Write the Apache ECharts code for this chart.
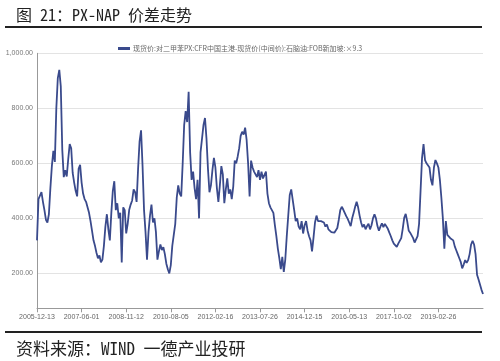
<!DOCTYPE html>
<html><head><meta charset="utf-8">
<script src="https://cdn.jsdelivr.net/npm/echarts@6/dist/echarts.min.js"></script>
<style>html,body{margin:0;padding:0;background:#fff}#c{width:500px;height:361px}</style>
</head><body><div id="c"></div>
<script>
const tickDates = ['2005-12-13','2007-06-01','2008-11-12','2010-08-05','2012-02-16','2013-07-26','2014-12-15','2016-05-13','2017-10-02','2019-02-26','2020-07-20'];
const yTicks = [200,400,600,800,1000];
const seriesName = '现货价:对二甲苯PX:CFR中国主港-现货价(中间价):石脑油:FOB新加坡:×9.3';
const values = [
320,470,465,495,460,430,395,385,415,510,590,645,605,800,910,940,880,650,550,575,552,615,670,655,565,530,500,480,580,595,
530,490,470,460,440,420,390,355,320,300,275,255,265,240,250,300,370,415,360,320,420,500,535,430,455,400,420,240,440,430,
345,380,430,450,465,505,495,460,580,680,720,590,430,350,250,350,410,450,385,400,350,250,280,305,285,295,270,235,215,200,
230,300,340,380,475,520,490,480,600,740,790,750,860,640,540,570,510,470,540,400,640,690,740,765,690,580,495,520,575,620,
585,510,460,520,590,560,455,505,545,490,505,470,515,610,600,625,655,700,715,705,730,685,600,480,610,585,570,560,550,575,
540,570,545,550,570,490,455,440,445,420,375,335,290,255,215,260,205,250,335,410,485,505,500,430,390,400,370,360,390,345,
375,390,355,335,320,280,330,385,410,390,385,390,395,385,370,378,360,358,350,348,348,352,365,395,430,442,432,420,408,398,
385,372,400,420,442,460,440,410,385,368,378,360,372,380,360,375,400,415,400,372,355,370,382,368,380,375,362,348,335,320,
308,312,296,308,305,328,362,402,416,390,356,348,345,328,312,318,335,380,500,620,670,612,600,605,585,540,520,585,612,600,
585,540,475,400,290,390,340,340,328,325,320,298,284,270,256,242,218,232,248,238,248,270,305,318,305,270,195,178,176,140,125
];
const perSeg = 30;
// category dates: spread evenly between the tick dates
const categories = [];
for (let s = 0; s < tickDates.length - 1; s++) {
  const a = Date.parse(tickDates[s]), b = Date.parse(tickDates[s+1]);
  for (let k = 0; k < perSeg; k++) {
    categories.push(new Date(a + (b - a) * k / perSeg).toISOString().slice(0,10));
  }
}
categories.push(tickDates[tickDates.length-1]);

const headFont = "'Noto Sans Mono CJK SC', 'Liberation Mono', 'Noto Sans CJK SC', monospace";
const chart = echarts.init(document.getElementById('c'));
const showIdx = (i) => i % perSeg === 0 && i < values.length - 1;
chart.setOption({
  animation: false,
  title: [
    {text: '图 21：PX-NAP 价差走势', left: 11, top: 2, textStyle: {fontSize: 16, fontWeight: 'normal', color: '#222', fontFamily: headFont}},
    {text: '资料来源：WIND 一德产业投研', left: 11, top: 335, textStyle: {fontSize: 17, fontWeight: 'normal', color: '#222', fontFamily: headFont}}
  ],
  graphic: [
    {type: 'line', shape: {x1: 5, y1: 27, x2: 482, y2: 27}, style: {stroke: '#222', lineWidth: 2}},
    {type: 'line', shape: {x1: 5, y1: 332, x2: 482, y2: 332}, style: {stroke: '#222', lineWidth: 2}}
  ],
  legend: {
    top: 40, left: 113, itemWidth: 12, itemHeight: 3, icon: 'rect', itemGap: 4,
    textStyle: {fontSize: 7, color: '#666', fontFamily: 'Noto Sans CJK SC', padding: [0,0,0,-2]},
    data: [seriesName]
  },
  grid: {left: 37, right: 17, top: 53.3, bottom: 52.7, containLabel: false},
  xAxis: {
    type: 'category', data: categories, boundaryGap: false,
    axisLine: {lineStyle: {color: '#999'}},
    axisTick: {interval: (i) => showIdx(i), length: 4, lineStyle: {color: '#999'}},
    axisLabel: {interval: (i) => showIdx(i), fontSize: 7, color: '#666', margin: 5, fontFamily: 'Liberation Sans'},
    splitLine: {show: false}
  },
  yAxis: {
    type: 'value', min: 73, max: 1000,
    axisLine: {show: true, lineStyle: {color: '#999'}},
    axisTick: {show: false, customValues: yTicks},
    axisLabel: {customValues: yTicks, fontSize: 7, color: '#777', margin: 4, fontFamily: 'Liberation Sans',
      formatter: (v) => v.toLocaleString('en-US', {minimumFractionDigits: 2, maximumFractionDigits: 2})},
    splitLine: {show: true, lineStyle: {color: '#e3e3e3'}}
  },
  series: [{
    name: seriesName, type: 'line', data: values, showSymbol: false, symbol: 'none',
    lineStyle: {color: '#3a4a8c', width: 1.8}, itemStyle: {color: '#3a4a8c'}
  }]
});
</script></body></html>
